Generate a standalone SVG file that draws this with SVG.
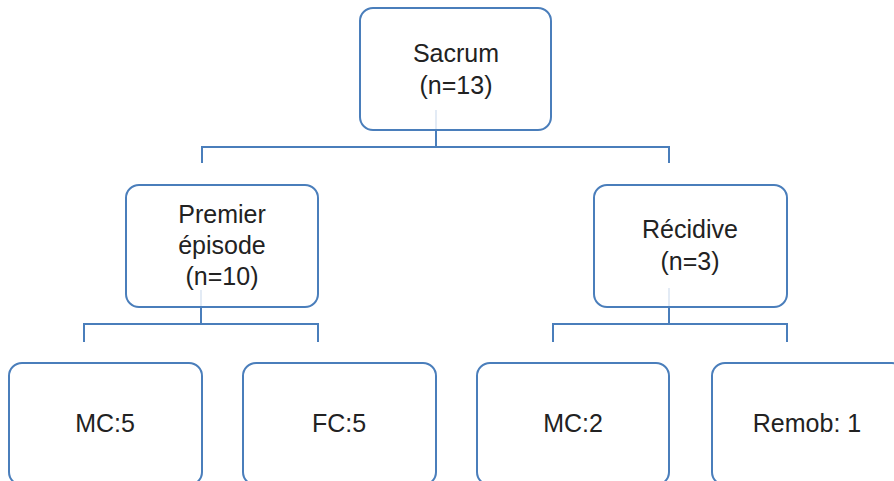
<svg xmlns="http://www.w3.org/2000/svg" width="894" height="481" viewBox="0 0 894 481">
<style>
.box{fill:#fff;stroke:#4a7ebb;stroke-width:2}
.lbl{font-family:"Liberation Sans",Arial,sans-serif;font-size:25px;fill:#222;text-anchor:middle}
.con{fill:none;stroke:#4a7ebb;stroke-width:2}
.faint{fill:none;stroke:#e3ebf5;stroke-width:2}
</style>
<rect width="894" height="481" fill="#fff"/>
<g id="n-sacrum"><rect class="box" x="360" y="8" width="191" height="122" rx="13"/>
<text class="lbl" x="456" y="62">Sacrum</text><text class="lbl" x="456" y="94">(n=13)</text></g>
<g id="n-premier"><rect class="box" x="126" y="185" width="192" height="122" rx="13"/>
<text class="lbl" x="222" y="223">Premier</text><text class="lbl" x="222" y="254">épisode</text><text class="lbl" x="222" y="285">(n=10)</text></g>
<g id="n-recidive"><rect class="box" x="594" y="185" width="193" height="122" rx="13"/>
<text class="lbl" x="690" y="238">Récidive</text><text class="lbl" x="690" y="270">(n=3)</text></g>
<g id="n-mc5"><rect class="box" x="9" y="363" width="193" height="122" rx="13"/>
<text class="lbl" x="105" y="432">MC:5</text></g>
<g id="n-fc5"><rect class="box" x="243" y="363" width="193" height="122" rx="13"/>
<text class="lbl" x="339" y="432">FC:5</text></g>
<g id="n-mc2"><rect class="box" x="477" y="363" width="192" height="122" rx="13"/>
<text class="lbl" x="573" y="432">MC:2</text></g>
<g id="n-remob"><rect class="box" x="712" y="363" width="193" height="122" rx="13"/>
<text class="lbl" x="807" y="432">Remob: 1</text></g>
<g id="connectors">
<path class="faint" d="M436 110V129M201 290V306M669 288V306"/>
<path class="con" d="M436 131V147M202 163V147H669V163"/>
<path class="con" d="M201 308V324M84 342V324H318V342"/>
<path class="con" d="M669 308V324M553 342V324H787V342"/>
</g>
</svg>
